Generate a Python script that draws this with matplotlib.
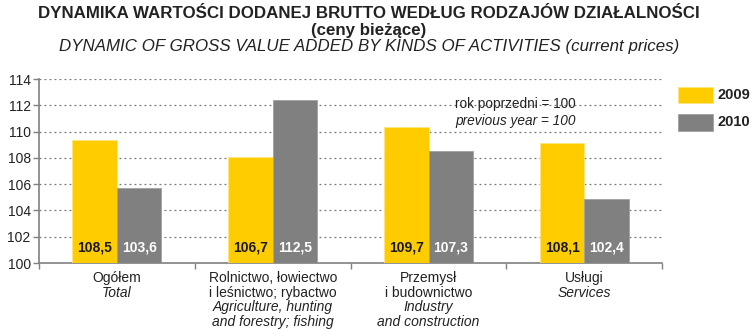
import matplotlib.pyplot as plt
import matplotlib.transforms as mtransforms
import numpy as np

plt.rcParams['font.family'] = ['Liberation Sans Narrow', 'Liberation Sans', 'DejaVu Sans']

cat_pl = [['Ogółem'], ['Rolnictwo, łowiectwo', 'i leśnictwo; rybactwo'],
          ['Przemysł', 'i budownictwo'], ['Usługi']]
cat_en = [['Total'], ['Agriculture, hunting', 'and forestry; fishing'],
          ['Industry', 'and construction'], ['Services']]
bars_2009 = [109.4, 108.1, 110.35, 109.15]
bars_2010 = [105.7, 112.45, 108.5, 104.85]
labels_2009 = ['108,5', '106,7', '109,7', '108,1']
labels_2010 = ['103,6', '112,5', '107,3', '102,4']
yticks = [100, 102, 104, 106, 108, 110, 112, 114]

yellow = '#ffcc00'
grey = '#808080'
txt = '#222222'

fig = plt.figure(figsize=(7.5, 3.3), dpi=100)
ax = fig.add_axes([0.052, 0.203, 0.831, 0.557])

x = np.arange(len(cat_pl))
w = 0.285
ax.bar(x - w/2, np.array(bars_2009) - 100, w, bottom=100, color=yellow, edgecolor='#ffe680', linewidth=0.6, zorder=3)
ax.bar(x + w/2, np.array(bars_2010) - 100, w, bottom=100, color=grey, edgecolor='#a0a0a0', linewidth=0.6, zorder=3)

for i in range(len(cat_pl)):
    ax.text(x[i] - w/2, 101.15, labels_2009[i], ha='center', va='center', fontsize=10,
            fontweight='bold', color='#1a1a1a', zorder=4)
    ax.text(x[i] + w/2, 101.15, labels_2010[i], ha='center', va='center', fontsize=10,
            fontweight='bold', color='white', zorder=4)

ax.set_xlim(-0.5, 3.5)
ax.set_ylim(100, 114)
ax.set_yticks(yticks)
ax.set_yticklabels([str(t) for t in yticks], fontsize=10, color=txt)
ax.set_xticks(np.arange(-0.5, 3.6, 1))
ax.set_xticklabels([])
ax.tick_params(axis='both', direction='out', length=4, color=grey, width=1)
ax.tick_params(axis='y', pad=2)

for y in yticks[1:]:
    ax.axhline(y, color='#777777', linestyle=(0, (1.5, 2.5)), linewidth=0.9, zorder=1)

for s in ['top', 'right']:
    ax.spines[s].set_visible(False)
for s in ['left', 'bottom']:
    ax.spines[s].set_color(grey)
    ax.spines[s].set_linewidth(1.2)

# category labels, one line at a time
blend = mtransforms.blended_transform_factory(ax.transData, fig.transFigure)
for i in range(len(cat_pl)):
    lines = [(s, 'normal') for s in cat_pl[i]] + [(s, 'italic') for s in cat_en[i]]
    for k, (s, st) in enumerate(lines):
        ax.text(x[i], 1 - (278 + k * 14.7) / 330, s, transform=blend, ha='center', va='center',
                fontsize=10, style=st, color=txt, clip_on=False)

ax.text(0.668, 0.865, 'rok poprzedni = 100', transform=ax.transAxes, ha='left', va='center',
        fontsize=9.8, color=txt)
ax.text(0.668, 0.775, 'previous year = 100', transform=ax.transAxes, ha='left', va='center',
        fontsize=9.8, style='italic', color=txt)

# legend
fig.patches.append(plt.Rectangle((678/750, 1 - 103/330), 35/750, 16/330, transform=fig.transFigure,
                                 facecolor=yellow, edgecolor='#ffe680', linewidth=0.6))
fig.patches.append(plt.Rectangle((678/750, 1 - 131/330), 35/750, 17/330, transform=fig.transFigure,
                                 facecolor=grey, edgecolor='#a0a0a0', linewidth=0.6))
fig.text(718/750, 1 - 95/330, '2009', ha='left', va='center', fontsize=10.5, fontweight='bold', color=txt)
fig.text(718/750, 1 - 122/330, '2010', ha='left', va='center', fontsize=10.5, fontweight='bold', color=txt)

fig.text(0.492, 1 - 14/330, 'DYNAMIKA WARTOŚCI DODANEJ BRUTTO WEDŁUG RODZAJÓW DZIAŁALNOŚCI',
         ha='center', va='center', fontsize=12.2, fontweight='bold', color=txt)
fig.text(0.492, 1 - 31/330, '(ceny bieżące)', ha='center', va='center', fontsize=12.2,
         fontweight='bold', color=txt)
fig.text(0.492, 1 - 47/330, 'DYNAMIC OF GROSS VALUE ADDED BY KINDS OF ACTIVITIES (current prices)',
         ha='center', va='center', fontsize=12.2, style='italic', color=txt)

fig.savefig('out.png', dpi=100)
